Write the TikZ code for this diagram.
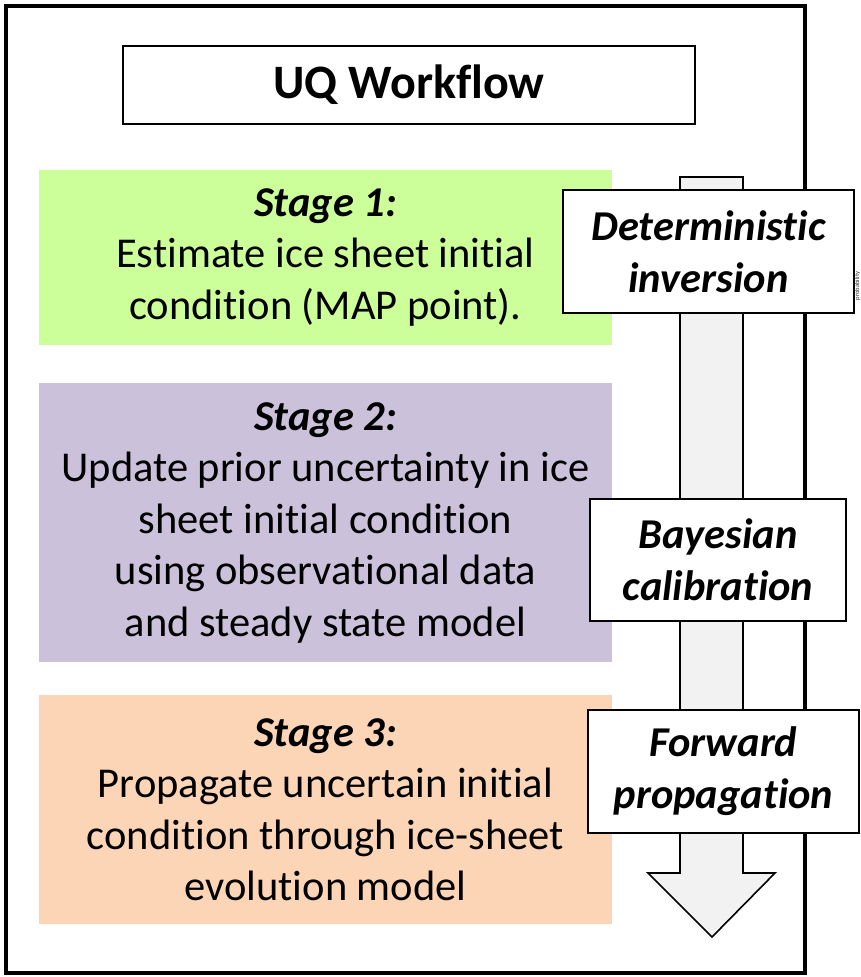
\documentclass[tikz,border=0pt]{standalone}
\usepackage{fontspec}
\setmainfont{Carlito}[Ligatures={NoCommon}]
\definecolor{stageA}{HTML}{CCFF99}
\definecolor{stageB}{HTML}{CCC1DA}
\definecolor{stageC}{HTML}{FBD5B5}
\definecolor{arrowfill}{HTML}{F2F2F2}
\begin{document}
\begin{tikzpicture}[x=1pt,y=-1pt,
  stagebox/.style={rectangle, inner sep=0pt, minimum width=573pt, align=center,
    font=\fontsize{42.5}{51.5}\selectfont},
  labelbox/.style={rectangle, draw=black, line width=2pt, fill=white, inner sep=0pt,
    align=center, font=\fontsize{42.5}{52}\selectfont\bfseries\itshape},
  titlebox/.style={rectangle, draw=black, line width=1.8pt, fill=white, inner sep=0pt,
    minimum width=572pt, minimum height=78pt, font=\fontsize{48}{52}\selectfont\bfseries}
]
\useasboundingbox (0,0) rectangle (860,977);
% outer frame
\draw[line width=4pt] (6,6) rectangle (805,973);
% title
\node[titlebox] (title) at (409,85) {UQ Workflow};
% stage boxes
\node[stagebox, fill=stageA, minimum height=175pt] (s1) at (325.5,257.5)
  {\textbf{\textit{Stage 1:}}\\Estimate ice sheet initial\\condition (MAP point).};
\node[stagebox, fill=stageB, minimum height=279pt] (s2) at (325.5,522.5)
  {\textbf{\textit{Stage 2:}}\\Update prior uncertainty in ice\\sheet initial condition\\using observational data\\and steady state model};
\node[stagebox, fill=stageC, minimum height=229pt] (s3) at (325.5,809.5)
  {\textbf{\textit{Stage 3:}}\\Propagate uncertain initial\\condition through ice-sheet\\evolution model};
% big down arrow
\draw[line width=1.6pt, fill=arrowfill, line join=miter]
  (680,177) -- (743,177) -- (743,873) -- (775,873) -- (712,937) -- (648,873) -- (680,873) -- cycle;
\coordinate (arrowtip) at (712,937);
% label boxes
\node[labelbox, minimum width=291pt, minimum height=123pt] (det) at (708.5,251.5)
  {Deterministic\\inversion};
\node[labelbox, minimum width=256pt, minimum height=122pt] (bay) at (718,560)
  {Bayesian\\calibration};
\node[labelbox, minimum width=271pt, minimum height=123pt] (fwd) at (723.5,771.5)
  {Forward\\propagation};
% tiny clipped text at the right edge
\node[rotate=90, inner sep=0pt, font=\fontsize{6.5}{7}\selectfont, text=black!80] (prob) at (857.5,286) {probability};
\end{tikzpicture}
\end{document}
